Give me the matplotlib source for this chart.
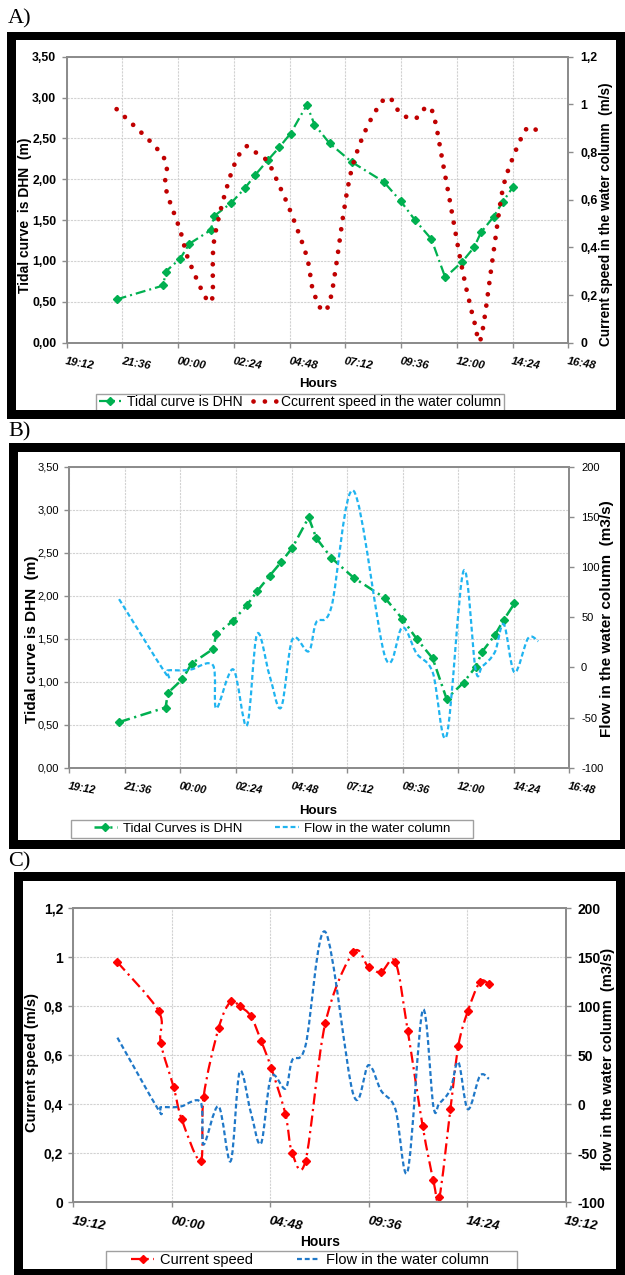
import numpy as np
import matplotlib
matplotlib.use("Agg")
import matplotlib.pyplot as plt
from matplotlib.path import Path
from matplotlib.patches import PathPatch, Rectangle
from matplotlib.lines import Line2D

plt.rcParams['font.family'] = ['Liberation Sans', 'DejaVu Sans']

# ---------------- data ----------------
# measurement times in decimal hours (values above 24 belong to the next day)
hours = [21.35, 23.36, 23.46, 24.09, 24.48, 25.41, 25.55, 26.28, 26.87, 27.31,
         27.85, 28.35, 28.84, 29.54, 29.87, 30.52, 31.48, 32.85, 33.59, 34.20,
         34.90, 35.50, 36.23, 36.75, 37.04, 37.58, 37.97, 38.43, 39.02, 39.46]
# tidal curve (m, DHN) - first 28 times
tide_m = [0.53, 0.70, 0.87, 1.03, 1.21, 1.38, 1.55, 1.71, 1.89, 2.05,
          2.23, 2.39, 2.56, 2.91, 2.67, 2.44, 2.21, 1.97, 1.73, 1.50,
          1.27, 0.80, 0.99, 1.17, 1.35, 1.54, 1.72, 1.91]
# current speed (m/s)
speed_ms = [0.98, 0.78, 0.65, 0.47, 0.34, 0.17, 0.43, 0.71, 0.82, 0.80,
            0.76, 0.66, 0.55, 0.36, 0.20, 0.17, 0.73, 1.02, 0.96, 0.94,
            0.98, 0.70, 0.31, 0.09, 0.02, 0.38, 0.64, 0.78, 0.90, 0.89]
# flow in the water column (m3/s)
flow_m3s = [68, -6, -3, -3, -2, 2, -41, -2, -58, 33,
            -8, -40, 28, 16, 45, 60, 176, 10, 40, 14,
            -5, -68, 96, -2, 1, 15, 43, -5, 29, 26]

ticks_ab = [19.2 + 2.4 * i for i in range(10)]
ticks_c = [19.2 + 4.8 * i for i in range(6)]
tide_ticks = [0.0, 0.5, 1.0, 1.5, 2.0, 2.5, 3.0, 3.5]
speed_ticks = [0.0, 0.2, 0.4, 0.6, 0.8, 1.0, 1.2]
flow_ticks = [-100, -50, 0, 50, 100, 150, 200]

# ---------------- style ----------------
W, H = 625, 1275
GREEN = '#00B050'
DARKRED = '#C00000'
RED = '#FF0000'
LBLUE = '#1FB4F0'
DBLUE = '#1F78C8'
GRAY = '#8c8c8c'
GRID = '#d2d2d2'

fig = plt.figure(figsize=(W / 100, H / 100), dpi=100)
fig.patch.set_facecolor('white')


def prect(l, t, r, b):
    return [l / W, 1 - b / H, (r - l) / W, (b - t) / H]


def fx(x):
    return x / W


def fy(y):
    return 1 - y / H


def hhmm(h):
    m = int(round(h * 60)) % (24 * 60)
    return '%02d:%02d' % (m // 60, m % 60)


def comma2(v):
    return ('%.2f' % v).replace('.', ',')


def commag(v):
    return ('%g' % round(v, 2)).replace('.', ',')


def smooth_path(x, y):
    x = np.asarray(x, float)
    y = np.asarray(y, float)
    n = len(x)
    verts = [(x[0], y[0])]
    codes = [Path.MOVETO]
    for i in range(n - 1):
        i0 = max(i - 1, 0)
        i3 = min(i + 2, n - 1)
        c1 = (x[i] + (x[i + 1] - x[i0]) / 6.0, y[i] + (y[i + 1] - y[i0]) / 6.0)
        c2 = (x[i + 1] - (x[i3] - x[i]) / 6.0, y[i + 1] - (y[i3] - y[i]) / 6.0)
        verts += [c1, c2, (x[i + 1], y[i + 1])]
        codes += [Path.CURVE4] * 3
    return Path(verts, codes)


def style_axes(ax, ax2, xticks, xlim, ytl, ylim, ylabels, y2t, y2lim, y2labels,
               xfs, yfs, y2fs, yweight='bold', xweight='bold'):
    ax.set_xlim(*xlim)
    ax.set_ylim(*ylim)
    ax2.set_ylim(*y2lim)
    ax.set_xticks(xticks)
    ax.set_xticklabels([hhmm(t) for t in xticks], rotation=-10, ha='left',
                       va='top', rotation_mode='anchor', fontsize=xfs,
                       fontweight=xweight, fontstyle='italic')
    ax.set_yticks(ytl)
    ax.set_yticklabels(ylabels, fontsize=yfs, fontweight=yweight)
    ax2.set_yticks(y2t)
    ax2.set_yticklabels(y2labels, fontsize=y2fs, fontweight=yweight)
    for a in (ax, ax2):
        for s in a.spines.values():
            s.set_color(GRAY)
            s.set_linewidth(1.3)
        a.tick_params(colors=GRAY, labelcolor='black', length=3.5, width=1.0)
    ax.tick_params(axis='x', pad=6)
    ax.tick_params(axis='y', pad=4)
    ax2.tick_params(axis='y', pad=5)
    ax.grid(True, color=GRID, lw=0.8, ls=(0, (2, 1)))
    ax.set_axisbelow(True)


def frame(l, t, r, b, tl, tt, tr, tb):
    for (x0, y0, x1, y1) in [(l, t, r, t + tt), (l, b - tb, r, b),
                             (l, t, l + tl, b), (r - tr, t, r, b)]:
        fig.add_artist(Rectangle((fx(x0), fy(y1)), (x1 - x0) / W, (y1 - y0) / H,
                                 transform=fig.transFigure, facecolor='black',
                                 edgecolor='none', zorder=20))


def legend_box(l, t, r, b, handles, labels, cx, cy, fs, hl, cs):
    fig.add_artist(Rectangle((fx(l), fy(b)), (r - l) / W, (b - t) / H,
                             transform=fig.transFigure, facecolor='white',
                             edgecolor='#a0a0a0', lw=1.0, zorder=4))
    lg = fig.legend(handles, labels, loc='center', bbox_to_anchor=(fx(cx), fy(cy)),
                    ncol=2, frameon=False, fontsize=fs, handlelength=hl,
                    columnspacing=cs, handletextpad=0.4, borderpad=0.1)
    lg.set_zorder(5)


green_ls = (0, (4.5, 1.8, 0.9, 1.8))
dot_ls = (0, (0.01, 2.4))
red_ls = (0, (5, 2, 1, 2))
blue_ls = (0, (2.2, 1.3))

# ================= Panel A =================
axA = fig.add_axes(prect(66.7, 56.7, 568.3, 342.7))
axA2 = axA.twinx()
axA.plot(hours[:len(tide_m)], tide_m, color=GREEN, lw=1.6, ls=green_ls,
         marker='D', ms=3.8, zorder=3)
axA2.add_patch(PathPatch(smooth_path(hours, speed_ms), transform=axA2.transData,
                         fill=False, edgecolor=DARKRED, lw=3.4, linestyle=dot_ls,
                         capstyle='round'))
style_axes(axA, axA2, ticks_ab, (19.2, 40.8), tide_ticks, (0, 3.5),
           [comma2(v) for v in tide_ticks], speed_ticks, (0, 1.2),
           [commag(v) for v in speed_ticks], 8.2, 8.8, 8.8)
fig.text(fx(25), fy(215), 'Tidal curve  is DHN  (m)', rotation=90, ha='center',
         va='center', fontsize=10, fontweight='bold')
fig.text(fx(606), fy(214), 'Current speed in the water column  (m/s)', rotation=90,
         ha='center', va='center', fontsize=9.8, fontweight='bold')
fig.text(fx(318), fy(384), 'Hours', ha='center', va='center', fontsize=9.5,
         fontweight='bold')
hA = [Line2D([], [], color=GREEN, lw=1.6, ls=green_ls, marker='D', ms=3.8),
      Line2D([], [], color=DARKRED, lw=3.4, ls=dot_ls, dash_capstyle='round')]
legend_box(95.6, 394, 504, 416, hA,
           ['Tidal curve is DHN', 'Ccurrent speed in the water column'],
           300, 402, 10, 1.6, 0.8)
frame(7, 32, 625, 419, 9, 8, 9.5, 9)
fig.text(fx(8), fy(19), 'A)', ha='left', va='center', fontsize=16,
         family=['Liberation Serif', 'DejaVu Serif'])

# ================= Panel B =================
axB = fig.add_axes(prect(69.3, 466.7, 569.3, 767.7))
axB2 = axB.twinx()
axB.plot(hours[:len(tide_m)], tide_m, color=GREEN, lw=1.8, ls=green_ls,
         marker='D', ms=4.3, zorder=3)
axB2.add_patch(PathPatch(smooth_path(hours, flow_m3s), transform=axB2.transData,
                         fill=False, edgecolor=LBLUE, lw=1.6, linestyle=blue_ls))
style_axes(axB, axB2, ticks_ab, (19.2, 40.8), tide_ticks, (0, 3.5),
           [comma2(v) for v in tide_ticks], flow_ticks, (-100, 200),
           [str(v) for v in flow_ticks], 7.8, 8, 8, yweight='normal')
fig.text(fx(32), fy(639), 'Tidal curve is DHN  (m)', rotation=90, ha='center',
         va='center', fontsize=11, fontweight='bold')
fig.text(fx(607.5), fy(619), 'Flow in the water column  (m3/s)', rotation=90,
         ha='center', va='center', fontsize=11, fontweight='bold')
fig.text(fx(318), fy(811), 'Hours', ha='center', va='center', fontsize=9.5,
         fontweight='bold')
hB = [Line2D([], [], color=GREEN, lw=1.8, ls=green_ls, marker='D', ms=4.3),
      Line2D([], [], color=LBLUE, lw=1.6, ls=blue_ls)]
legend_box(71, 820, 473, 838, hB, ['Tidal Curves is DHN', 'Flow in the water column'],
           272, 828.5, 9.5, 1.8, 2.5)
frame(9, 443.5, 625, 849, 9, 8.5, 5.5, 9.5)
fig.text(fx(8), fy(431.5), 'B)', ha='left', va='center', fontsize=16,
         family=['Liberation Serif', 'DejaVu Serif'])

# ================= Panel C =================
axC = fig.add_axes(prect(73.3, 908.3, 565.7, 1202.3))
axC2 = axC.twinx()
axC.add_patch(PathPatch(smooth_path(hours, speed_ms), transform=axC.transData,
                        fill=False, edgecolor=RED, lw=1.6, linestyle=red_ls, zorder=3))
axC.plot(hours, speed_ms, ls='none', marker='D', ms=4.3, color=RED, zorder=4)
axC2.add_patch(PathPatch(smooth_path(hours, flow_m3s), transform=axC2.transData,
                         fill=False, edgecolor=DBLUE, lw=1.6, linestyle=blue_ls))
style_axes(axC, axC2, ticks_c, (19.2, 43.2), speed_ticks, (0, 1.2),
           [commag(v) for v in speed_ticks], flow_ticks, (-100, 200),
           [str(v) for v in flow_ticks], 9.5, 10, 10)
fig.text(fx(32), fy(1062), 'Current speed (m/s)', rotation=90, ha='center',
         va='center', fontsize=10.5, fontweight='bold')
fig.text(fx(608), fy(1059), 'flow in the water column  (m3/s)', rotation=90,
         ha='center', va='center', fontsize=10.5, fontweight='bold')
fig.text(fx(320), fy(1242), 'Hours', ha='center', va='center', fontsize=10,
         fontweight='bold')
hC = [Line2D([], [], color=RED, lw=1.6, ls=red_ls, marker='D', ms=4.3),
      Line2D([], [], color=DBLUE, lw=1.6, ls=blue_ls)]
legend_box(105.6, 1251, 516.7, 1275, hC, ['Current speed', 'Flow in the water column'],
           310, 1260, 10.5, 1.6, 3.0)
frame(14, 871.7, 625, 1275, 9, 9, 9.5, 6)
fig.text(fx(8), fy(862), 'C)', ha='left', va='center', fontsize=16,
         family=['Liberation Serif', 'DejaVu Serif'])

fig.savefig('out.png', dpi=100, facecolor='white')
